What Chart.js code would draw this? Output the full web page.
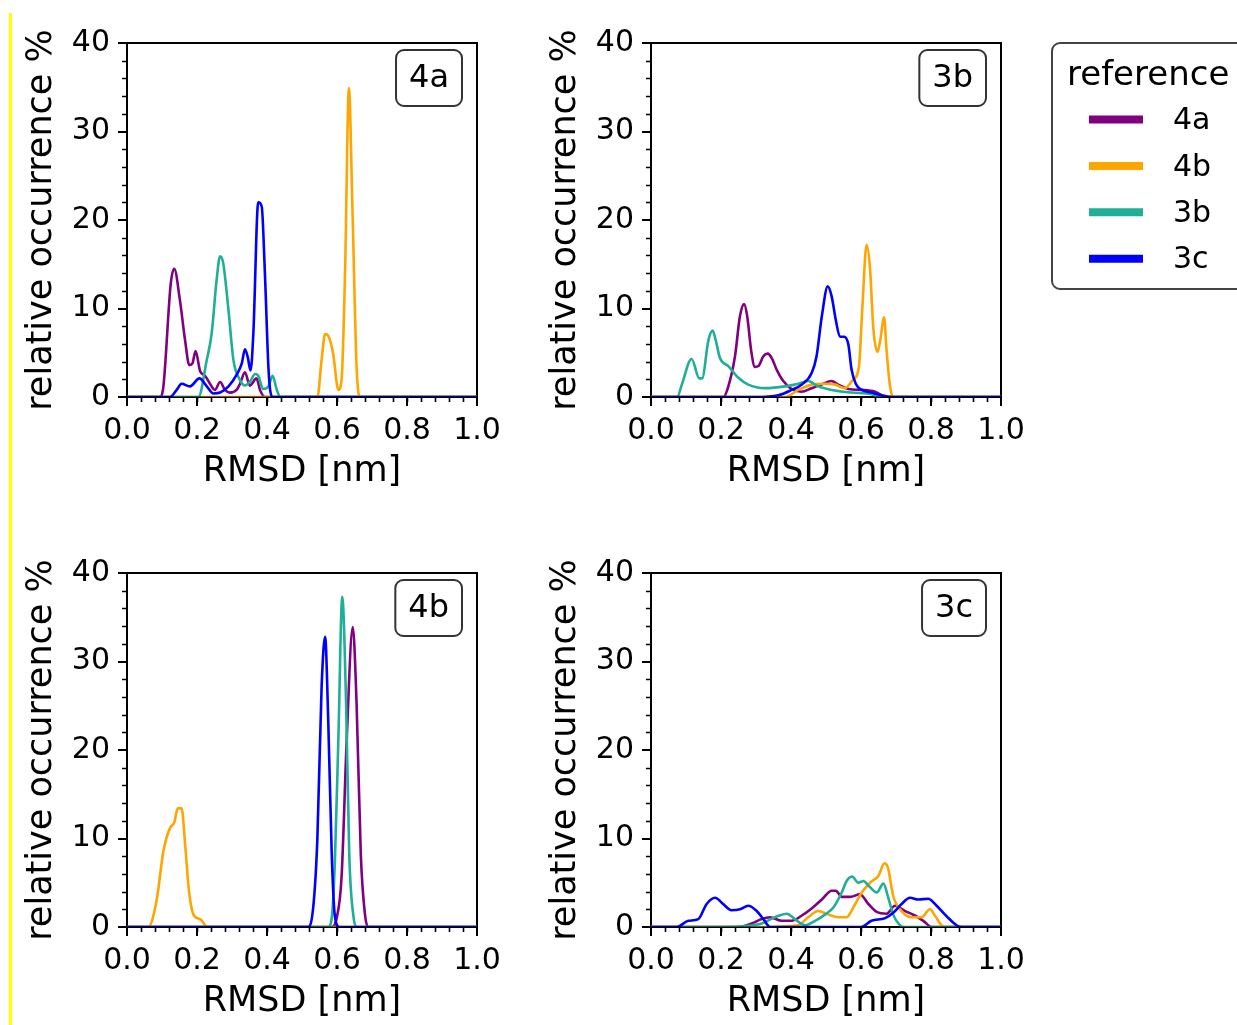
<!DOCTYPE html>
<html>
<head>
<meta charset="utf-8">
<script src="https://cdn.jsdelivr.net/npm/chart.js@4.4.1/dist/chart.umd.min.js"></script>
<style>
  body { margin: 0; background: #fff; width: 1237px; height: 1025px; position: relative; overflow: hidden; }
  .mark { position: absolute; left: 9px; top: 13px; width: 3px; height: 1012px; background: #ffff00; }
  canvas { position: absolute; }
</style>
</head>
<body>
<div class="mark"></div>
<canvas id="p4a" width="520" height="510" style="left:0;top:0"></canvas>
<canvas id="p3b" width="713" height="510" style="left:524px;top:0"></canvas>
<canvas id="p4b" width="520" height="510" style="left:0;top:530px"></canvas>
<canvas id="p3c" width="520" height="510" style="left:524px;top:530px"></canvas>
<script>
// references (legend order) and their colours
const refs = ['4a', '4b', '3b', '3c'];
const refColors = ['#800080', '#ffa500', '#1fae96', '#0000ff'];
const xTicks = [0, 0.2, 0.4, 0.6, 0.8, 1.0];
const yTicks = [0, 10, 20, 30, 40];
const xMinorStep = 0.04;
const yMinorStep = 2;

// panel 4a
const x4a_4a = [0, 0.094, 0.104, 0.125, 0.135, 0.151, 0.166, 0.178, 0.187, 0.196, 0.209, 0.223, 0.237, 0.251, 0.266, 0.28, 0.294, 0.313, 0.323, 0.337, 0.351, 0.37, 0.38, 0.394, 1];
const y4a_4a = [0, 0, 1.2, 12.8, 14.5, 11, 6.4, 3.6, 3.8, 5.2, 2.9, 2.4, 1.5, 0.8, 1.7, 0.8, 0.5, 0.8, 1.5, 2.8, 1.3, 2.1, 0.8, 0, 0];
const x4a_4b = [0, 0.544, 0.556, 0.566, 0.575, 0.589, 0.604, 0.613, 0.623, 0.634, 0.644, 0.656, 0.666, 1];
const y4a_4b = [0, 0, 4.2, 7.1, 6.9, 4.9, 0.8, 1.9, 14, 34.9, 21.5, 3.4, 0, 0];
const x4a_3b = [0, 0.204, 0.228, 0.242, 0.256, 0.266, 0.275, 0.29, 0.304, 0.323, 0.337, 0.351, 0.366, 0.375, 0.389, 0.404, 0.416, 0.428, 0.438, 1];
const y4a_3b = [0, 0, 4.2, 7.2, 13.2, 15.9, 15.1, 9.8, 4.2, 1.9, 1.3, 1.7, 2.6, 2.4, 0.9, 1.2, 2.4, 0.8, 0, 0];
const x4a_3c = [0, 0.123, 0.142, 0.156, 0.18, 0.207, 0.228, 0.247, 0.266, 0.29, 0.313, 0.328, 0.337, 0.345, 0.353, 0.361, 0.375, 0.385, 0.394, 0.404, 0.409, 0.416, 1];
const y4a_3c = [0, 0, 0.8, 1.5, 1.2, 2.1, 1.2, 0.4, 0.5, 1.2, 2.5, 3.8, 5.4, 4.5, 3.0, 7.2, 22, 21.5, 14, 3.4, 0.8, 0, 0];

// panel 3b
const x3b_4a = [0, 0.207, 0.221, 0.24, 0.254, 0.266, 0.275, 0.286, 0.297, 0.307, 0.321, 0.333, 0.345, 0.359, 0.378, 0.402, 0.43, 0.459, 0.487, 0.516, 0.535, 0.564, 0.602, 0.64, 0.659, 0.673, 1];
const y3b_4a = [0, 0, 1.2, 4.6, 9.1, 10.5, 9.1, 5.3, 3.4, 3.5, 4.6, 4.9, 4.4, 3.1, 1.8, 0.9, 0.6, 1.0, 1.4, 1.8, 1.4, 0.9, 0.8, 0.6, 0.2, 0, 0];
const x3b_4b = [0, 0.383, 0.421, 0.459, 0.497, 0.526, 0.554, 0.578, 0.594, 0.604, 0.616, 0.626, 0.635, 0.647, 0.655, 0.666, 0.673, 0.683, 0.692, 1];
const y3b_4b = [0, 0, 0.8, 1.4, 1.5, 1.4, 1.0, 2.0, 3.4, 10.2, 17.2, 14.4, 7.9, 5.1, 6.4, 9.0, 5.3, 1.2, 0, 0];
const x3b_3b = [0, 0.075, 0.088, 0.116, 0.138, 0.146, 0.164, 0.176, 0.185, 0.197, 0.221, 0.249, 0.278, 0.326, 0.383, 0.421, 0.449, 0.478, 0.516, 0.573, 0.63, 0.65, 1];
const y3b_3b = [0, 0, 1.4, 4.3, 2.1, 2.1, 6.4, 7.5, 6.4, 4.4, 3.5, 2.2, 1.4, 1.0, 1.2, 1.5, 1.8, 1.2, 0.8, 0.5, 0.3, 0, 0];
const x3b_3c = [0, 0.3, 0.364, 0.402, 0.431, 0.459, 0.473, 0.488, 0.505, 0.516, 0.528, 0.54, 0.552, 0.564, 0.573, 0.585, 0.602, 0.63, 0.659, 0.69, 1];
const y3b_3c = [0, 0, 0.2, 0.8, 1.4, 2.7, 4.6, 9.1, 12.5, 11.4, 8.7, 6.8, 6.8, 5.9, 3.1, 1.5, 0.8, 0.5, 0.2, 0, 0];

// panel 4b
const x4b_4a = [0, 0.585, 0.599, 0.613, 0.628, 0.645, 0.656, 0.668, 0.68, 0.689, 1];
const y4b_4a = [0, 0, 1.0, 5.6, 21.4, 33.9, 25.2, 8.2, 1.4, 0, 0];
const x4b_4b = [0, 0.061, 0.085, 0.104, 0.123, 0.135, 0.145, 0.156, 0.166, 0.177, 0.191, 0.209, 0.23, 1];
const y4b_4b = [0, 0, 3.1, 8.6, 11.2, 11.8, 13.4, 13.4, 9.4, 4.1, 1.3, 0.9, 0, 0];
const x4b_3b = [0, 0.575, 0.586, 0.594, 0.604, 0.615, 0.626, 0.635, 0.647, 0.656, 1];
const y4b_3b = [0, 0, 1.4, 7.5, 21.4, 37.3, 25.2, 8.2, 1.2, 0, 0];
const x4b_3c = [0, 0.518, 0.533, 0.544, 0.556, 0.566, 0.575, 0.585, 0.594, 0.607, 1];
const y4b_3c = [0, 0, 2.6, 10.1, 27.1, 32.8, 23.3, 8.2, 1.2, 0, 0];

// panel 3c
const x3c_4a = [0, 0.25, 0.288, 0.316, 0.34, 0.373, 0.402, 0.431, 0.459, 0.488, 0.516, 0.528, 0.545, 0.569, 0.597, 0.621, 0.645, 0.673, 0.697, 0.726, 0.754, 0.778, 0.802, 1];
const y3c_4a = [0, 0, 0.4, 0.9, 1.1, 0.7, 0.7, 1.3, 2.1, 3.1, 4.1, 4.1, 3.4, 3.4, 3.7, 2.6, 1.7, 1.5, 2.4, 1.8, 1.3, 0.7, 0, 0];
const x3c_4b = [0, 0.3, 0.421, 0.449, 0.478, 0.507, 0.535, 0.559, 0.578, 0.602, 0.626, 0.65, 0.667, 0.677, 0.692, 0.716, 0.745, 0.773, 0.797, 0.811, 0.83, 0.84, 1];
const y3c_4b = [0, 0, 0.2, 1.1, 1.8, 1.4, 1.1, 1.1, 2.2, 3.9, 5.0, 5.8, 7.2, 6.7, 3.5, 1.8, 1.1, 1.1, 2.0, 1.3, 0.2, 0, 0];
const x3c_3b = [0, 0.202, 0.27, 0.316, 0.354, 0.388, 0.411, 0.44, 0.469, 0.497, 0.521, 0.545, 0.559, 0.575, 0.592, 0.607, 0.621, 0.645, 0.664, 0.678, 0.692, 0.707, 0.721, 1];
const y3c_3b = [0, 0, 0.1, 0.4, 1.1, 1.5, 0.9, 0.2, 0.7, 1.4, 2.2, 3.9, 5.2, 5.7, 5.0, 5.2, 4.7, 3.9, 4.9, 3.3, 1.4, 0.4, 0, 0];
const x3c_3c = [0, 0.073, 0.107, 0.135, 0.159, 0.183, 0.206, 0.23, 0.254, 0.278, 0.302, 0.321, 0.34, 0.6, 0.63, 0.669, 0.692, 0.716, 0.74, 0.764, 0.792, 0.816, 0.845, 0.873, 0.888, 1];
const y3c_3c = [0, 0, 0.7, 0.9, 2.6, 3.3, 2.6, 1.9, 2.0, 2.4, 1.8, 0.9, 0, 0, 0.7, 1.0, 1.6, 2.6, 3.3, 3.1, 3.2, 2.4, 1.2, 0.2, 0, 0];

const FONT = 'DejaVu Sans';

// frame, minor ticks and the panel name box
const framePlugin = {
    id: 'frame',
    beforeDatasetsDraw(chart) {
        const { ctx, chartArea: a } = chart;
        ctx.save();
        ctx.strokeStyle = '#000';
        ctx.lineWidth = 2;
        ctx.strokeRect(a.left, a.top, a.right - a.left, a.bottom - a.top);
        ctx.restore();
    },
    afterDatasetsDraw(chart, args, opts) {
        const { ctx, chartArea: a, scales } = chart;
        ctx.save();
        // bottom spine sits over the zero lines (darkens them a bit)
        ctx.strokeStyle = 'rgba(0,0,0,0.45)';
        ctx.lineWidth = 2;
        ctx.beginPath();
        ctx.moveTo(a.left, a.bottom);
        ctx.lineTo(a.right, a.bottom);
        ctx.stroke();

        // minor ticks
        ctx.strokeStyle = '#000';
        ctx.lineWidth = 1.6;
        ctx.beginPath();
        for (let v = xMinorStep; v < 1; v += xMinorStep) {
            const px = Math.round(scales.x.getPixelForValue(v)) + 0.5;
            ctx.moveTo(px, a.bottom);
            ctx.lineTo(px, a.bottom + 5);
        }
        for (let v = yMinorStep; v < 40; v += yMinorStep) {
            if (v % 10 === 0) continue;
            const py = Math.round(scales.y.getPixelForValue(v)) + 0.5;
            ctx.moveTo(a.left, py);
            ctx.lineTo(a.left - 5, py);
        }
        ctx.stroke();

        // panel name
        ctx.font = '32px "' + FONT + '"';
        const tw = ctx.measureText(opts.name).width;
        const w = tw + 26, h = 56;
        const bx = a.right - 15 - w, by = a.top + 7;
        ctx.beginPath();
        ctx.roundRect(bx, by, w, h, 8);
        ctx.fillStyle = '#fff';
        ctx.fill();
        ctx.strokeStyle = '#333';
        ctx.lineWidth = 2;
        ctx.stroke();
        ctx.fillStyle = '#000';
        ctx.textAlign = 'center';
        ctx.textBaseline = 'middle';
        ctx.fillText(opts.name, bx + w / 2, by + h / 2 + 1);
        ctx.restore();
    }
};

// legend box to the right of panel 3b
const refLegend = {
    id: 'refLegend',
    afterDraw(chart, args, opts) {
        if (!opts.show) return;
        const ctx = chart.ctx;
        ctx.save();
        ctx.beginPath();
        ctx.roundRect(528, 43, 260, 246, 8);
        ctx.fillStyle = '#fff';
        ctx.fill();
        ctx.strokeStyle = '#444';
        ctx.lineWidth = 2;
        ctx.stroke();
        ctx.fillStyle = '#000';
        ctx.font = '34px "' + FONT + '"';
        ctx.textBaseline = 'alphabetic';
        ctx.fillText('reference', 543, 85);
        ctx.font = '30px "' + FONT + '"';
        ctx.textBaseline = 'middle';
        chart.data.datasets.forEach((ds, i) => {
            const y = 119.5 + i * 46.4;
            ctx.strokeStyle = ds.borderColor;
            ctx.lineWidth = 8;
            ctx.beginPath();
            ctx.moveTo(565, y);
            ctx.lineTo(619, y);
            ctx.stroke();
            ctx.fillText(ds.label, 649, y + 2);
        });
        ctx.restore();
    }
};

function makePanel(id, name, xs, ys, padRight, showLegend) {
    const datasets = refs.map((r, i) => ({
        label: r,
        data: xs[i].map((x, j) => ({ x: x, y: ys[i][j] })),
        borderColor: refColors[i],
        borderWidth: 2.6,
        pointRadius: 0,
        fill: false,
        cubicInterpolationMode: 'monotone',
        order: refs.length - i   // later references drawn on top, like the original
    }));
    new Chart(document.getElementById(id), {
        type: 'line',
        data: { datasets: datasets },
        plugins: [framePlugin, refLegend],
        options: {
            responsive: false,
            animation: false,
            events: [],
            layout: { padding: { left: 0, top: 43, right: padRight, bottom: 0 } },
            plugins: {
                legend: { display: false },
                tooltip: { enabled: false },
                frame: { name: name },
                refLegend: { show: showLegend }
            },
            scales: {
                x: {
                    type: 'linear',
                    min: 0,
                    max: 1,
                    afterFit: s => { s.height = 113; },
                    afterBuildTicks: s => { s.ticks = xTicks.map(v => ({ value: v })); },
                    grid: { drawOnChartArea: false, tickLength: 9, color: '#000', lineWidth: 2 },
                    border: { display: false },
                    ticks: {
                        color: '#000',
                        font: { family: FONT, size: 30, lineHeight: 1 },
                        padding: 10,
                        maxRotation: 0,
                        callback: v => v.toFixed(1)
                    },
                    title: {
                        display: true,
                        text: 'RMSD [nm]',
                        color: '#000',
                        font: { family: FONT, size: 35, lineHeight: 1.2 },
                        padding: { top: 0, bottom: 17 }
                    }
                },
                y: {
                    min: 0,
                    max: 40,
                    afterFit: s => { s.width = 127; },
                    afterBuildTicks: s => { s.ticks = yTicks.map(v => ({ value: v })); },
                    grid: { drawOnChartArea: false, tickLength: 9, color: '#000', lineWidth: 2 },
                    border: { display: false },
                    ticks: {
                        color: '#000',
                        font: { family: FONT, size: 30, lineHeight: 1 },
                        padding: 8
                    },
                    title: {
                        display: true,
                        text: 'relative occurrence %',
                        color: '#000',
                        font: { family: FONT, size: 35, lineHeight: 1.2 },
                        padding: { top: 21, bottom: 0 }
                    }
                }
            }
        }
    });
}

makePanel('p4a', '4a', [x4a_4a, x4a_4b, x4a_3b, x4a_3c], [y4a_4a, y4a_4b, y4a_3b, y4a_3c], 43, false);
makePanel('p3b', '3b', [x3b_4a, x3b_4b, x3b_3b, x3b_3c], [y3b_4a, y3b_4b, y3b_3b, y3b_3c], 236, true);
makePanel('p4b', '4b', [x4b_4a, x4b_4b, x4b_3b, x4b_3c], [y4b_4a, y4b_4b, y4b_3b, y4b_3c], 43, false);
makePanel('p3c', '3c', [x3c_4a, x3c_4b, x3c_3b, x3c_3c], [y3c_4a, y3c_4b, y3c_3b, y3c_3c], 43, false);
</script>
</body>
</html>
